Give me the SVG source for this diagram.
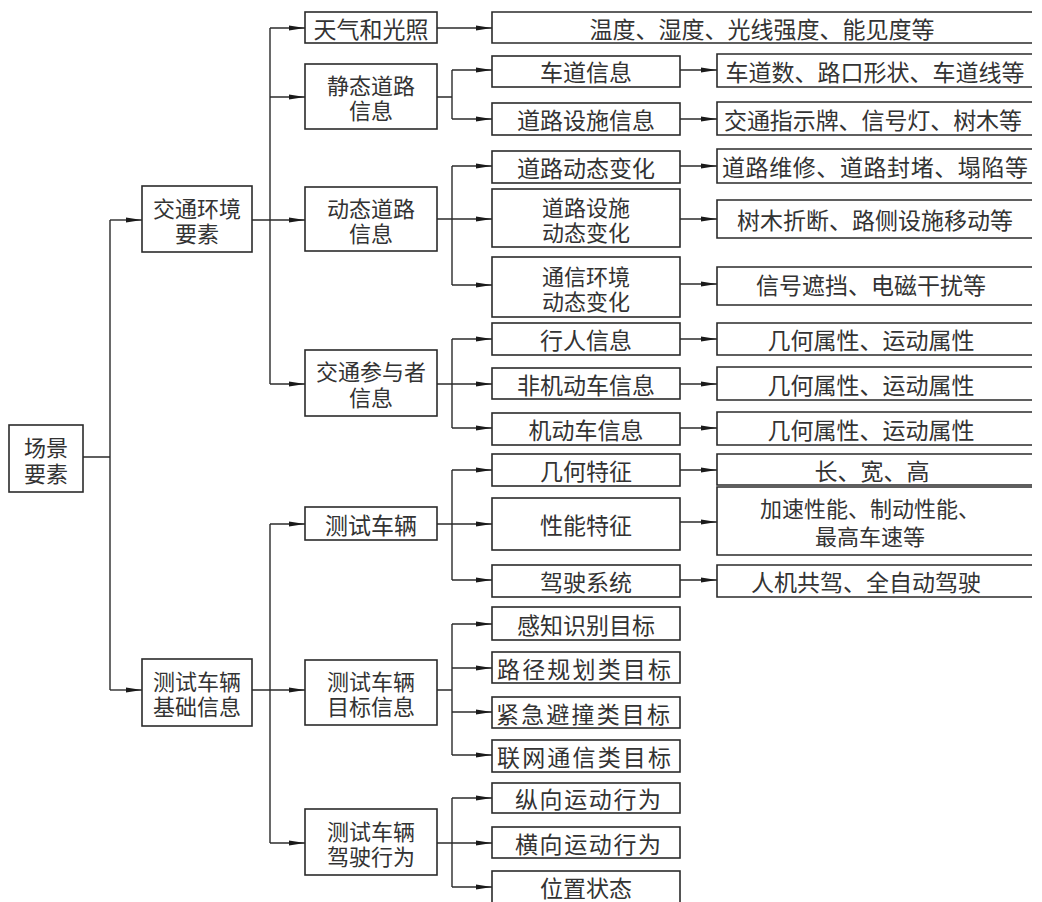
<svg xmlns="http://www.w3.org/2000/svg" width="1042" height="902" viewBox="0 0 1042 902">
<style>
.box{fill:#fff;stroke:#2b2b2b;stroke-width:1.6}
.open{fill:#fff;stroke:#2b2b2b;stroke-width:1.6}
.t{font-family:"Noto Sans CJK SC","Noto Sans CJK TC",sans-serif;font-size:23px;fill:#333;text-anchor:middle;dominant-baseline:central}
.t2{font-size:22px}
.c{fill:none;stroke:#2b2b2b;stroke-width:1.4}
.a{fill:none;stroke:#2b2b2b;stroke-width:1.4;marker-end:url(#arr)}
</style>
<defs>
<marker id="arr" markerUnits="userSpaceOnUse" viewBox="0 0 16 6" refX="16" refY="3" markerWidth="16" markerHeight="6" orient="auto">
<path d="M0,0.6 L16,3 L0,5.4 Z" fill="#1a1a1a"/>
</marker>
</defs>
<rect width="1042" height="902" fill="#fff"/>

<g id="connectors">
<path class="c" d="M83,457 H110 M110,220 V690"/>
<path class="c" d="M252,220 H270 M270,28 V384"/>
<path class="c" d="M252,690 H270 M270,524 V843"/>
<path class="c" d="M437,97 H452 M452,70 V119"/>
<path class="c" d="M437,219 H452 M452,166 V285"/>
<path class="c" d="M437,384 H452 M452,339 V428"/>
<path class="c" d="M437,524 H452 M452,470 V580"/>
<path class="c" d="M437,690 H452 M452,624 V755"/>
<path class="c" d="M437,843 H452 M452,798 V887"/>
<path class="a" d="M110,220 H142"/>
<path class="a" d="M110,690 H142"/>
<path class="a" d="M270,28 H305"/>
<path class="a" d="M270,97 H305"/>
<path class="a" d="M270,220 H305"/>
<path class="a" d="M270,384 H305"/>
<path class="a" d="M270,524 H305"/>
<path class="a" d="M270,690 H305"/>
<path class="a" d="M270,843 H305"/>
<path class="a" d="M437,28 H492"/>
<path class="a" d="M452,70 H492"/>
<path class="a" d="M452,119 H492"/>
<path class="a" d="M452,166 H492"/>
<path class="a" d="M452,219 H492"/>
<path class="a" d="M452,285 H492"/>
<path class="a" d="M452,339 H492"/>
<path class="a" d="M452,384 H492"/>
<path class="a" d="M452,428 H492"/>
<path class="a" d="M452,470 H492"/>
<path class="a" d="M452,524 H492"/>
<path class="a" d="M452,580 H492"/>
<path class="a" d="M452,624 H492"/>
<path class="a" d="M452,668 H492"/>
<path class="a" d="M452,712 H492"/>
<path class="a" d="M452,755 H492"/>
<path class="a" d="M452,798 H492"/>
<path class="a" d="M452,843 H492"/>
<path class="a" d="M452,887 H492"/>
<path class="a" d="M680,70 H717"/>
<path class="a" d="M680,119 H717"/>
<path class="a" d="M680,166 H717"/>
<path class="a" d="M680,219 H717"/>
<path class="a" d="M680,284 H717"/>
<path class="a" d="M680,339 H717"/>
<path class="a" d="M680,384 H717"/>
<path class="a" d="M680,428 H717"/>
<path class="a" d="M680,470 H717"/>
<path class="a" d="M680,522 H717"/>
<path class="a" d="M680,580 H717"/>
</g>

<g id="root"><rect class="box" x="9" y="425" width="74" height="67"/><text class="t t2" x="46" y="446">场景</text><text class="t t2" x="46" y="472">要素</text></g>
<g id="jtjh"><rect class="box" x="142" y="186" width="110" height="66"/><text class="t t2" x="197" y="207">交通环境</text><text class="t t2" x="197" y="232">要素</text></g>
<g id="csjc"><rect class="box" x="142" y="659" width="110" height="67"/><text class="t t2" x="197" y="680">测试车辆</text><text class="t t2" x="197" y="705">基础信息</text></g>

<g id="tqgz"><rect class="box" x="305" y="12" width="132" height="31"/><text class="t" x="371" y="28">天气和光照</text></g>
<g id="jtdl"><rect class="box" x="305" y="64" width="132" height="65"/><text class="t t2" x="371" y="84">静态道路</text><text class="t t2" x="371" y="109">信息</text></g>
<g id="dtdl"><rect class="box" x="305" y="187" width="132" height="64"/><text class="t t2" x="371" y="207">动态道路</text><text class="t t2" x="371" y="232">信息</text></g>
<g id="jtcy"><rect class="box" x="305" y="350" width="132" height="66"/><text class="t t2" x="371" y="370">交通参与者</text><text class="t t2" x="371" y="396">信息</text></g>
<g id="csc"><rect class="box" x="305" y="507" width="132" height="33"/><text class="t" x="371" y="524">测试车辆</text></g>
<g id="csmb"><rect class="box" x="305" y="660" width="132" height="65"/><text class="t t2" x="371" y="680">测试车辆</text><text class="t t2" x="371" y="705">目标信息</text></g>
<g id="csjs"><rect class="box" x="305" y="809" width="132" height="66"/><text class="t t2" x="371" y="830">测试车辆</text><text class="t t2" x="371" y="855">驾驶行为</text></g>

<g id="wd"><path class="open" d="M1032,12 H492 V43 H1032"/><text class="t" x="762" y="28">温度、湿度、光线强度、能见度等</text></g>

<g id="cdxx"><rect class="box" x="492" y="56" width="188" height="31"/><text class="t" x="586" y="71">车道信息</text></g>
<g id="dlss"><rect class="box" x="492" y="103" width="188" height="32"/><text class="t" x="586" y="119">道路设施信息</text></g>
<g id="dldt"><rect class="box" x="492" y="151" width="188" height="32"/><text class="t" x="586" y="167">道路动态变化</text></g>
<g id="dlssdt"><rect class="box" x="492" y="189" width="188" height="58"/><text class="t t2" x="586" y="206">道路设施</text><text class="t t2" x="586" y="231">动态变化</text></g>
<g id="txhj"><rect class="box" x="492" y="257" width="188" height="60"/><text class="t t2" x="586" y="275">通信环境</text><text class="t t2" x="586" y="300">动态变化</text></g>
<g id="xrxx"><rect class="box" x="492" y="323" width="188" height="32"/><text class="t" x="586" y="339">行人信息</text></g>
<g id="fjdc"><rect class="box" x="492" y="368" width="188" height="31"/><text class="t" x="586" y="384">非机动车信息</text></g>
<g id="jdc"><rect class="box" x="492" y="413" width="188" height="32"/><text class="t" x="586" y="429">机动车信息</text></g>
<g id="jhtz"><rect class="box" x="492" y="454" width="188" height="32"/><text class="t" x="586" y="470">几何特征</text></g>
<g id="xntz"><rect class="box" x="492" y="498" width="188" height="52"/><text class="t" x="586" y="524">性能特征</text></g>
<g id="jsxt"><rect class="box" x="492" y="565" width="188" height="32"/><text class="t" x="586" y="581">驾驶系统</text></g>
<g id="gzsb"><rect class="box" x="492" y="607" width="188" height="33"/><text class="t" x="586" y="624">感知识别目标</text></g>
<g id="ljgh"><rect class="box" x="492" y="652" width="188" height="31"/><text class="t" x="584" y="668" textLength="174" lengthAdjust="spacing">路径规划类目标</text></g>
<g id="jjbz"><rect class="box" x="492" y="697" width="188" height="31"/><text class="t" x="583" y="713" textLength="174" lengthAdjust="spacing">紧急避撞类目标</text></g>
<g id="lwtx"><rect class="box" x="492" y="740" width="188" height="32"/><text class="t" x="584" y="756" textLength="174" lengthAdjust="spacing">联网通信类目标</text></g>
<g id="zxyd"><rect class="box" x="492" y="783" width="188" height="30"/><text class="t" x="588" y="798" textLength="146" lengthAdjust="spacing">纵向运动行为</text></g>
<g id="hxyd"><rect class="box" x="492" y="827" width="188" height="31"/><text class="t" x="588" y="843" textLength="146" lengthAdjust="spacing">横向运动行为</text></g>
<g id="wzzt"><rect class="box" x="492" y="871" width="188" height="40"/><text class="t" x="586" y="887">位置状态</text></g>

<g id="r_cdxx"><path class="open" d="M1032,54 H717 V87 H1032"/><text class="t" x="875" y="71">车道数、路口形状、车道线等</text></g>
<g id="r_dlss"><path class="open" d="M1032,102 H717 V135 H1032"/><text class="t" x="873" y="119" textLength="298" lengthAdjust="spacing">交通指示牌、信号灯、树木等</text></g>
<g id="r_dldt"><path class="open" d="M1032,149 H717 V183 H1032"/><text class="t" x="875" y="166" textLength="306" lengthAdjust="spacing">道路维修、道路封堵、塌陷等</text></g>
<g id="r_dlssdt"><path class="open" d="M1032,200 H717 V238 H1032"/><text class="t" x="875" y="219">树木折断、路侧设施移动等</text></g>
<g id="r_txhj"><path class="open" d="M1032,267 H717 V305 H1032"/><text class="t" x="871" y="284">信号遮挡、电磁干扰等</text></g>
<g id="r_xrxx"><path class="open" d="M1032,323 H717 V355 H1032"/><text class="t" x="871" y="339">几何属性、运动属性</text></g>
<g id="r_fjdc"><path class="open" d="M1032,367 H717 V400 H1032"/><text class="t" x="871" y="384">几何属性、运动属性</text></g>
<g id="r_jdc"><path class="open" d="M1032,412 H717 V445 H1032"/><text class="t" x="871" y="429">几何属性、运动属性</text></g>
<g id="r_jhtz"><path class="open" d="M1032,454 H717 V485 H1032"/><text class="t" x="872" y="470">长、宽、高</text></g>
<g id="r_xntz"><path class="open" d="M1032,487 H717 V555 H1032"/><text class="t t2" x="870" y="507">加速性能、制动性能、</text><text class="t t2" x="870" y="535">最高车速等</text></g>
<g id="r_jsxt"><path class="open" d="M1032,565 H717 V597 H1032"/><text class="t" x="866" y="581">人机共驾、全自动驾驶</text></g>
</svg>
